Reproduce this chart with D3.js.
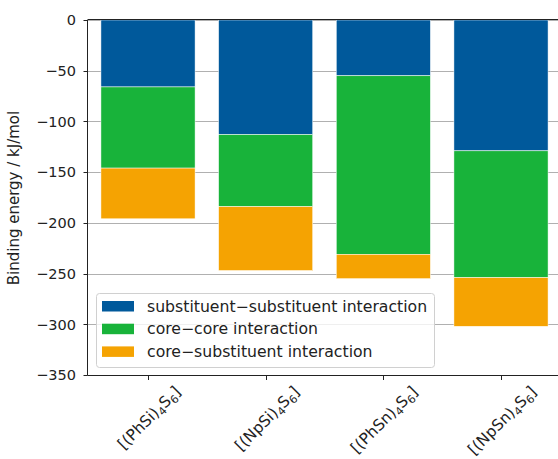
<!DOCTYPE html>
<html>
<head>
<meta charset="utf-8">
<script src="https://cdn.jsdelivr.net/npm/d3@7"></script>
<style>
  html, body { margin: 0; padding: 0; background: #fff; }
  svg { display: block; font-family: "DejaVu Sans", sans-serif; }
</style>
</head>
<body>
<svg id="chart" width="558" height="459"></svg>
<script>
// ---- data ----
const compounds = [
  { base: "[(PhSi)", s1: "4", mid: "S", s2: "6", end: "]" },
  { base: "[(NpSi)", s1: "4", mid: "S", s2: "6", end: "]" },
  { base: "[(PhSn)", s1: "4", mid: "S", s2: "6", end: "]" },
  { base: "[(NpSn)", s1: "4", mid: "S", s2: "6", end: "]" }
];
const seriesNames = [
  "substituent\u2212substituent interaction",
  "core\u2212core interaction",
  "core\u2212substituent interaction"
];
const substituentSubstituent = [-66, -113, -55, -129];
const coreCore = [-80, -71, -176, -125];
const coreSubstituent = [-50, -63, -24, -48];
const yTicks = [0, -50, -100, -150, -200, -250, -300, -350];
const colors = ["#00599b", "#18b33a", "#f5a302"];

// ---- layout ----
const svg = d3.select("#chart");
const pLeft = 88, pRight = 561, pTop = 20, pBottom = 375;

const rows = compounds.map((c, i) => ({
  idx: i,
  s0: substituentSubstituent[i],
  s1: coreCore[i],
  s2: coreSubstituent[i]
}));
const keys = ["s0", "s1", "s2"];
const stacked = d3.stack().keys(keys).offset(d3.stackOffsetDiverging)(rows);

const x = d3.scaleBand().domain(compounds.map((c, i) => i))
  .range([pLeft, pRight]).paddingInner(0.2).paddingOuter(0.11);
const y = d3.scaleLinear().domain([-350, 0]).range([pBottom, pTop]);

// grid
svg.append("g").selectAll("line").data(yTicks).join("line")
  .attr("x1", pLeft).attr("x2", pRight)
  .attr("y1", d => Math.round(y(d)) + 0.5).attr("y2", d => Math.round(y(d)) + 0.5)
  .attr("stroke", "#b0b0b0").attr("stroke-width", 1);

// bars
svg.append("g").selectAll("g").data(stacked).join("g")
  .attr("fill", (d, i) => colors[i])
  .selectAll("rect").data(d => d).join("rect")
  .attr("x", d => x(d.data.idx))
  .attr("width", x.bandwidth())
  .attr("y", d => y(d[1]))
  .attr("height", d => y(d[0]) - y(d[1]))
  .attr("stroke", "#ffffff").attr("stroke-width", 0.5);

// spines
const sp = svg.append("g").attr("stroke", "#222").attr("stroke-width", 1);
sp.append("line").attr("x1", pLeft - 0.5).attr("x2", pLeft - 0.5).attr("y1", pTop).attr("y2", pBottom + 0.5);
sp.append("line").attr("x1", pLeft - 0.5).attr("x2", pRight).attr("y1", pTop - 0.5).attr("y2", pTop - 0.5);
sp.append("line").attr("x1", pLeft - 0.5).attr("x2", pRight).attr("y1", pBottom + 0.5).attr("y2", pBottom + 0.5);
sp.append("line").attr("x1", pRight).attr("x2", pRight).attr("y1", pTop).attr("y2", pBottom);

// y ticks
const yt = svg.append("g");
yt.selectAll("line").data(yTicks).join("line")
  .attr("x1", pLeft - 4.5).attr("x2", pLeft - 0.5)
  .attr("y1", d => Math.round(y(d)) + 0.5).attr("y2", d => Math.round(y(d)) + 0.5)
  .attr("stroke", "#222").attr("stroke-width", 1);
yt.selectAll("text").data(yTicks).join("text")
  .attr("x", pLeft - 12).attr("y", d => y(d) + 5.3)
  .attr("text-anchor", "end").attr("font-size", 14.5).attr("fill", "#222")
  .text(d => d === 0 ? "0" : "\u2212" + Math.abs(d));

// y label
svg.append("text")
  .attr("transform", `translate(18.5,${(pTop + pBottom) / 2 + 0.5}) rotate(-90)`)
  .attr("text-anchor", "middle").attr("font-size", 15).attr("fill", "#222")
  .text("Binding energy / kJ/mol");

// x ticks
const xt = svg.append("g");
compounds.forEach((c, i) => {
  const cx = Math.round(x(i) + x.bandwidth() / 2) + 0.5;
  xt.append("line").attr("x1", cx).attr("x2", cx).attr("y1", pBottom + 1).attr("y2", pBottom + 5)
    .attr("stroke", "#222").attr("stroke-width", 1);
  const t = xt.append("text").attr("font-size", 15.5).attr("fill", "#222").attr("text-anchor", "middle");
  t.append("tspan").text(c.base);
  t.append("tspan").attr("font-size", 11).attr("dy", 3.5).text(c.s1);
  t.append("tspan").attr("dy", -3.5).text(c.mid);
  t.append("tspan").attr("font-size", 11).attr("dy", 3.5).text(c.s2);
  t.append("tspan").attr("dy", -3.5).text(c.end);
  const w = t.node().getComputedTextLength();
  const h = 15.5;
  const half = (w + h) * Math.SQRT1_2 / 2;
  const cy = pBottom + 8 + half;
  t.attr("transform", `translate(${cx},${cy}) rotate(-45)`).attr("y", 6);
});

// legend
const lg = svg.append("g");
lg.append("rect").attr("x", 96.5).attr("y", 293.5).attr("width", 338).attr("height", 74)
  .attr("rx", 3).attr("fill", "#fff").attr("fill-opacity", 0.8)
  .attr("stroke", "#d0d0d0").attr("stroke-width", 1);
seriesNames.forEach((name, i) => {
  const yy = 306 + i * 22.7;
  lg.append("rect").attr("x", 102).attr("y", yy - 5).attr("width", 32).attr("height", 10.5)
    .attr("fill", colors[i]);
  lg.append("text").attr("x", 147).attr("y", yy + 5.5).attr("font-size", 15.7).attr("fill", "#222")
    .text(name);
});
</script>
</body>
</html>
